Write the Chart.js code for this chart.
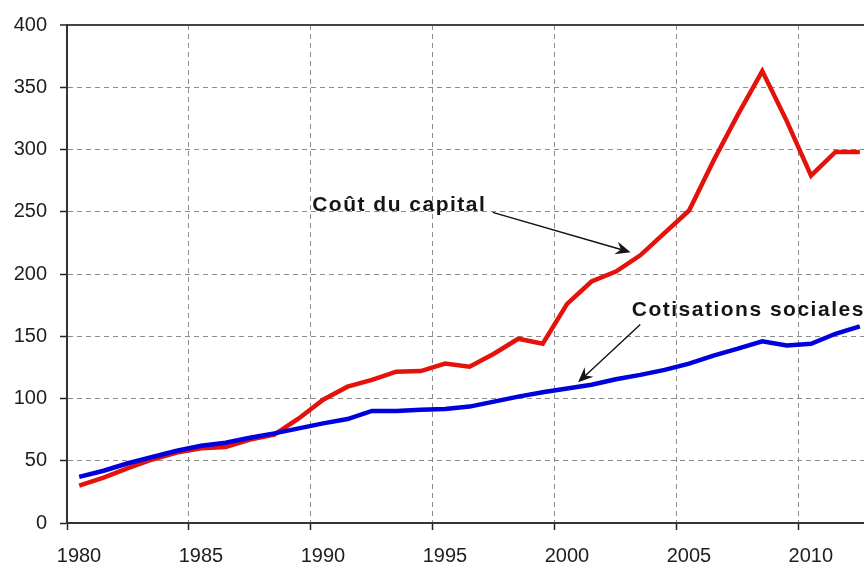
<!DOCTYPE html>
<html>
<head>
<meta charset="utf-8">
<script src="https://cdn.jsdelivr.net/npm/chart.js@4.4.1/dist/chart.umd.min.js"></script>
<style>
  html, body { margin: 0; padding: 0; background: #fff; overflow: hidden; }
  #chart { display: block; }
</style>
</head>
<body>
<canvas id="chart" width="864" height="570"></canvas>
<script>
/******************** data ********************/

const years = [1980, 1981, 1982, 1983, 1984, 1985, 1986, 1987, 1988, 1989,
  1990, 1991, 1992, 1993, 1994, 1995, 1996, 1997, 1998, 1999,
  2000, 2001, 2002, 2003, 2004, 2005, 2006, 2007, 2008, 2009,
  2010, 2011, 2012];

const coutCapital = [30, 36.5, 44, 51, 56.5, 60, 61, 67, 71, 84,
  99, 109.5, 115, 121.5, 122, 128, 125.5, 136, 148, 144,
  176, 194, 202, 215, 233, 251, 291, 328, 363, 323,
  279, 298, 298];

const cotisations = [37, 42, 48, 53, 58, 62, 64.5, 68.5, 72, 76,
  80, 83.5, 90, 90, 91, 91.5, 93.5, 97.5, 101.5, 105,
  108, 111, 115.5, 119, 123, 128, 134.5, 140, 146, 142.5,
  144, 152, 158];

// x tick labels (Excel style: one tick every 5 years, label centred on the year)
const xTickLabels = [1980, 1985, 1990, 1995, 2000, 2005, 2010];

// annotations: text position and arrow, in data units (year, value)
const labelCapital = { text: "Coût du capital", x: 1989.55, y: 251, from: [1996.95, 249.5], to: [2002.6, 217.5] };
const labelCotis = { text: "Cotisations sociales", x: 2002.65, y: 166, from: [2003.0, 159.5], to: [2000.45, 113] };

/******************** annotation plugin ********************/

function drawArrow(ctx, x1, y1, x2, y2) {
  const ang = Math.atan2(y2 - y1, x2 - x1);
  const len = 15, half = 6.5;
  ctx.beginPath();
  ctx.moveTo(x1, y1);
  ctx.lineTo(x2 - Math.cos(ang) * 9, y2 - Math.sin(ang) * 9);
  ctx.stroke();
  // stealth style head
  const bx = x2 - Math.cos(ang) * len, by = y2 - Math.sin(ang) * len;
  const nx = -Math.sin(ang), ny = Math.cos(ang);
  ctx.beginPath();
  ctx.moveTo(x2, y2);
  ctx.lineTo(bx + nx * half, by + ny * half);
  ctx.lineTo(x2 - Math.cos(ang) * 10, y2 - Math.sin(ang) * 10);
  ctx.lineTo(bx - nx * half, by - ny * half);
  ctx.closePath();
  ctx.fill();
}

const annotations = {
  id: "annotations",
  afterDatasetsDraw(chart) {
    const ctx = chart.ctx;
    const xs = chart.scales.x, ys = chart.scales.y;
    ctx.save();
    ctx.fillStyle = "#151515";
    ctx.strokeStyle = "#111";
    ctx.lineWidth = 1.4;
    ctx.font = "bold 21px 'Liberation Sans', Arial, sans-serif";
    ctx.textBaseline = "alphabetic";
    ctx.textAlign = "left";
    if ("letterSpacing" in ctx) ctx.letterSpacing = "1.5px";
    [labelCapital, labelCotis].forEach(function (a) {
      ctx.fillText(a.text, xs.getPixelForValue(a.x), ys.getPixelForValue(a.y));
      drawArrow(ctx,
        xs.getPixelForValue(a.from[0]), ys.getPixelForValue(a.from[1]),
        xs.getPixelForValue(a.to[0]), ys.getPixelForValue(a.to[1]));
    });
    ctx.restore();
  }
};

/******************** chart ********************/

const ctx = document.getElementById("chart").getContext("2d");
const myChart = new Chart(ctx, {
  type: "line",
  data: {
    datasets: [
      {
        label: "Cotisations sociales",
        data: years.map((y, i) => ({ x: y, y: cotisations[i] })),
        borderColor: "#0000dc",
        borderWidth: 4.5,
        pointRadius: 0,
        tension: 0,
      },
      {
        label: "Coût du capital",
        data: years.map((y, i) => ({ x: y, y: coutCapital[i] })),
        borderColor: "#e3120b",
        borderWidth: 4.5,
        pointRadius: 0,
        tension: 0,
      },
    ],
  },
  options: {
    responsive: false,
    animation: false,
    layout: { padding: { top: 20, left: 0, right: 0, bottom: 0 } },
    plugins: {
      legend: { display: false },
      tooltip: { enabled: false },
    },
    scales: {
      x: {
        type: "linear",
        min: 1979.5,
        max: 2012.17,
        afterBuildTicks: function (scale) {
          scale.ticks = xTickLabels.map((v) => ({ value: v - 0.5 }));
        },
        afterFit: function (scale) { scale.height = 47; },
        ticks: {
          callback: (v) => String(Math.round(v + 0.5)),
          labelOffset: 12,
          padding: 14,
          maxRotation: 0,
          autoSkip: false,
          color: "#1e1e1e",
          font: { family: "'Liberation Sans', Arial, sans-serif", size: 20 },
        },
        grid: {
          color: "#8c8c8c",
          lineWidth: 1,
          tickLength: 7,
          tickColor: "#222",
          tickWidth: 1.5,
          tickBorderDash: [],
        },
        border: { color: "#333", width: 2, dash: [5, 4] },
      },
      y: {
        min: 0,
        max: 400,
        afterFit: function (scale) { scale.width = 67; },
        ticks: {
          stepSize: 50,
          padding: 13,
          color: "#1e1e1e",
          font: { family: "'Liberation Sans', Arial, sans-serif", size: 20 },
        },
        grid: {
          color: (c) => (c.tick && c.tick.value === 400 ? "#444" : "#8c8c8c"),
          lineWidth: (c) => (c.tick && c.tick.value === 400 ? 2 : 1),
          tickLength: 7,
          tickColor: "#222",
          tickWidth: 1.5,
          tickBorderDash: [],
        },
        border: {
          color: "#333",
          width: 2,
          dash: (c) => (c.tick && c.tick.value === 400 ? [] : [5, 4]),
        },
      },
    },
  },
  plugins: [annotations],
});
</script>
</body>
</html>
